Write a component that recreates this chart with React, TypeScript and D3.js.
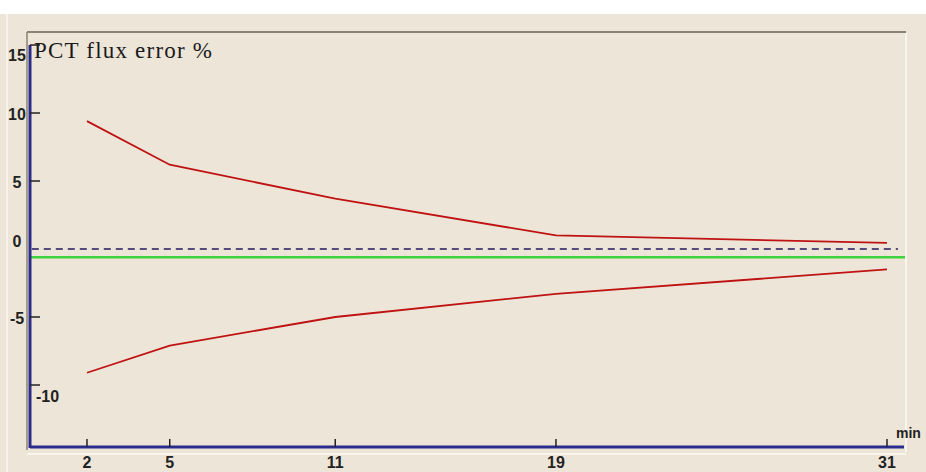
import React from "react";
import * as d3 from "d3";

const minutes = [2, 5, 11, 19, 31];
const upperError = [9.4, 6.2, 3.7, 1.0, 0.45];
const lowerError = [-9.1, -7.1, -5.0, -3.3, -1.5];
const xTickValues = [2, 5, 11, 19, 31];
const yTickValues = [15, 10, 5, 0, -5, -10];
const zeroLine = 0;
const meanLine = -0.6;
const titleText = "PCT flux error %";
const xUnit = "min";

export default function App() {
  const W = 926, H = 472;
  const x = d3.scaleLinear().domain([0, 31]).range([31.8, 887]);
  const y = d3.scaleLinear().domain([-10, 15]).range([385, 45]);
  const line = d3
    .line<[number, number]>()
    .x((d) => x(d[0]))
    .y((d) => y(d[1]));
  const up = minutes.map((m, i) => [m, upperError[i]] as [number, number]);
  const lo = minutes.map((m, i) => [m, lowerError[i]] as [number, number]);
  const axisColor = "#2b2b8c";
  const tickFont = { fontFamily: "Liberation Sans, Arial, sans-serif", fontWeight: 700, fontSize: 16, fill: "#222" } as const;
  const yAxisX = 30;
  const xAxisY = 447;
  const yLabelDy = (v: number) => (v === 0 ? -2 : v === 15 ? 16 : 7);

  return (
    <svg width={W} height={H} style={{ position: "absolute", left: 0, top: 0 }}>
      <rect x={0} y={0} width={W} height={H} fill="#ffffff" />
      <rect x={0} y={14} width={W} height={H - 14} fill="#ede6d8" />
      <line x1={7} x2={7} y1={14} y2={H} stroke="#f6f3ea" strokeWidth={2} />
      {/* panel frame */}
      <line x1={27} x2={906} y1={32} y2={32} stroke="#8a8272" strokeWidth={2} />
      <line x1={27} x2={27} y1={32} y2={450} stroke="#8a8272" strokeWidth={1.5} />
      <line x1={906} x2={906} y1={33} y2={452} stroke="#fbfaf5" strokeWidth={1.5} />
      <line x1={27} x2={906} y1={454} y2={454} stroke="#fbfaf5" strokeWidth={1.5} />

      {/* reference lines */}
      <line x1={x(0)} x2={898} y1={y(zeroLine)} y2={y(zeroLine)} stroke="#23195e" strokeWidth={1.7} strokeDasharray="7,5" />
      <line x1={yAxisX} x2={905} y1={y(meanLine)} y2={y(meanLine)} stroke="#3fd23f" strokeWidth={2.5} />

      {/* error envelope */}
      <path d={line(up) || ""} fill="none" stroke="#bf1212" strokeWidth={1.8} />
      <path d={line(lo) || ""} fill="none" stroke="#bf1212" strokeWidth={1.8} />

      {/* axes */}
      <line x1={yAxisX} x2={yAxisX} y1={y(15)} y2={xAxisY + 1} stroke={axisColor} strokeWidth={3} />
      <line x1={yAxisX} x2={904} y1={xAxisY} y2={xAxisY} stroke={axisColor} strokeWidth={3} />

      {yTickValues.map((v) => (
        <g key={"y" + v}>
          {v !== 0 && <line x1={yAxisX} x2={40} y1={y(v)} y2={y(v)} stroke="#222" strokeWidth={1.5} />}
          {v === -10 ? (
            <text x={36} y={y(v) + 17} {...tickFont}>{v}</text>
          ) : (
            <text x={17} y={y(v) + yLabelDy(v)} textAnchor="middle" {...tickFont}>
              {v}
            </text>
          )}
        </g>
      ))}

      {xTickValues.map((v) => (
        <g key={"x" + v}>
          <line x1={x(v)} x2={x(v)} y1={xAxisY - 8} y2={xAxisY} stroke="#222" strokeWidth={1.5} />
          <text x={x(v)} y={xAxisY + 21} textAnchor="middle" {...tickFont}>{v}</text>
        </g>
      ))}
      <text x={896} y={xAxisY - 9} {...tickFont} fontSize={14}>{xUnit}</text>

      <text x={34} y={58} fontFamily="Liberation Serif, Times New Roman, serif" fontSize={23} letterSpacing={1.2} fill="#1a1a1a">
        {titleText}
      </text>
    </svg>
  );
}
